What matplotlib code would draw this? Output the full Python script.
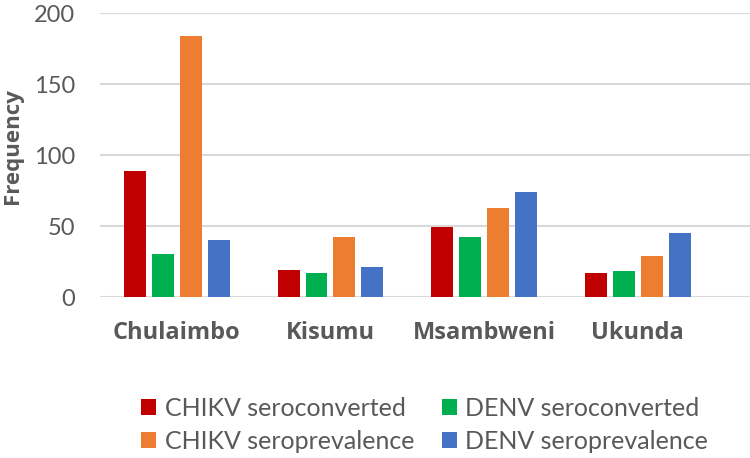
import matplotlib.pyplot as plt
import numpy as np

# Data
sites = ["Chulaimbo", "Kisumu", "Msambweni", "Ukunda"]
chikv_seroconverted = [89, 19, 49, 17]
denv_seroconverted = [30, 17, 42, 18]
chikv_seroprevalence = [184, 42, 63, 29]
denv_seroprevalence = [40, 21, 74, 45]

series = [
    ("CHIKV seroconverted", chikv_seroconverted, "#C00000"),
    ("DENV seroconverted", denv_seroconverted, "#00B050"),
    ("CHIKV seroprevalence", chikv_seroprevalence, "#ED7D31"),
    ("DENV seroprevalence", denv_seroprevalence, "#4472C4"),
]

grey = "#595959"
plt.rcParams['font.family'] = ['Lato', 'DejaVu Sans']

fig = plt.figure(figsize=(7.5, 4.58), dpi=100)
ax = fig.add_axes([0.1333, 0.3515, 0.8667, 0.6201])

x = np.arange(len(sites))
width = 0.143
step = 0.182

handles = {}
for i, (name, vals, color) in enumerate(series):
    bars = ax.bar(x + (i - 1.5) * step, vals, width, color=color, label=name, zorder=3)
    handles[name] = bars

ax.set_ylim(0, 200)
ax.set_xlim(-0.5, 3.73)
ax.set_yticks(np.arange(0, 201, 50))
ax.grid(axis='y', color='#d9d9d9', linewidth=1.5, zorder=0)
for s in ax.spines.values():
    s.set_visible(False)

ax.tick_params(axis='y', length=0, pad=18, labelsize=17, labelcolor=grey)
ax.tick_params(axis='x', length=0, pad=17)
ax.set_xticks(x)
ax.set_xticklabels(sites, fontsize=17, fontweight='bold', color=grey, family='Open Sans')

ax.set_ylabel("Frequency", fontsize=16, fontweight='bold', color=grey, family='Open Sans')
ax.yaxis.set_label_coords(-0.118, 0.53)

# legend: column-wise order
order = ["CHIKV seroconverted", "CHIKV seroprevalence", "DENV seroconverted", "DENV seroprevalence"]
leg = fig.legend([handles[n] for n in order], order, ncol=2, frameon=False,
                 loc='center', bbox_to_anchor=(0.566, 0.073), fontsize=18,
                 handlelength=0.6, handleheight=0.6, handletextpad=0.35,
                 columnspacing=1.1, labelspacing=0.4)
for t in leg.get_texts():
    t.set_color(grey)

fig.savefig("out.png", dpi=100)
